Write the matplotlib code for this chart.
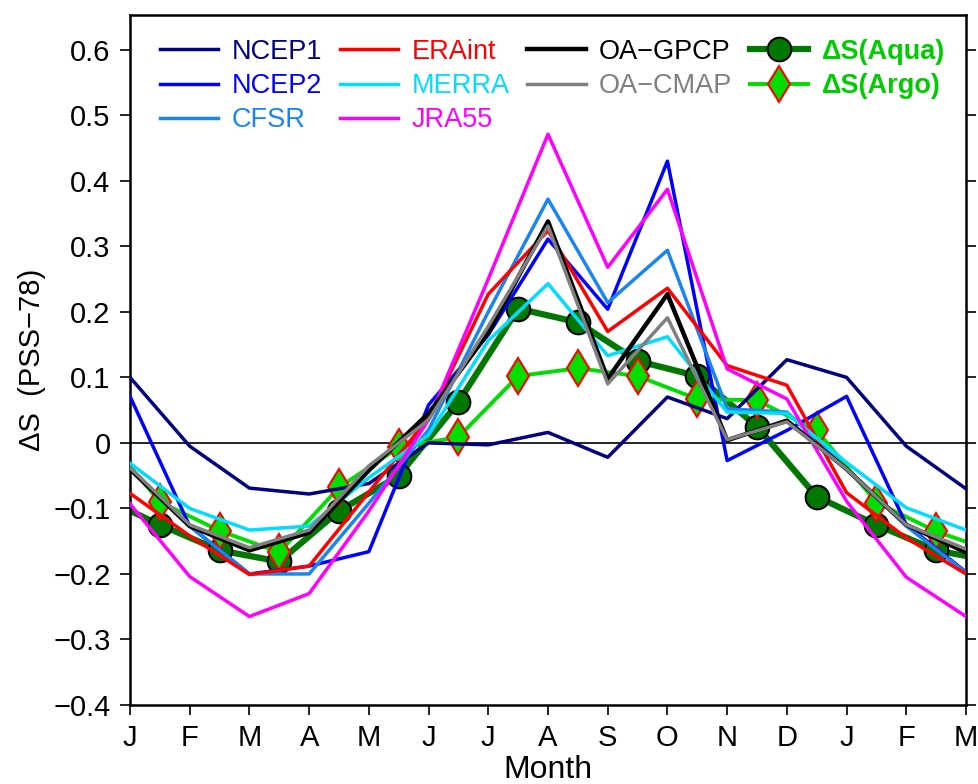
import matplotlib
matplotlib.use("Agg")
import matplotlib.pyplot as plt
import numpy as np
from matplotlib.lines import Line2D

plt.rcParams['font.family'] = ['Liberation Sans', 'DejaVu Sans']

# Month labels along the x axis (Jan to following Mar)
month_labels = ['J', 'F', 'M', 'A', 'M', 'J', 'J', 'A', 'S', 'O', 'N', 'D', 'J', 'F', 'M']

# E-P based salinity tendency from reanalyses, one value per month
ncep1 = [0.100, -0.005, -0.069, -0.078, -0.062, 0.000, -0.003, 0.016, -0.022, 0.070, 0.037, 0.127, 0.100, -0.005, -0.070]
ncep2 = [0.071, -0.127, -0.200, -0.188, -0.166, 0.058, 0.165, 0.311, 0.204, 0.430, -0.027, 0.019, 0.071, -0.125, -0.197]
cfsr = [-0.040, -0.127, -0.200, -0.200, -0.092, 0.020, 0.200, 0.372, 0.214, 0.294, 0.052, 0.047, -0.040, -0.127, -0.198]
eraint = [-0.077, -0.142, -0.201, -0.188, -0.075, 0.038, 0.227, 0.324, 0.170, 0.236, 0.118, 0.088, -0.076, -0.145, -0.200]
merra = [-0.031, -0.100, -0.133, -0.127, -0.053, 0.012, 0.156, 0.243, 0.133, 0.162, 0.047, 0.045, -0.030, -0.099, -0.133]
jra55 = [-0.093, -0.204, -0.265, -0.230, -0.104, 0.035, 0.250, 0.471, 0.268, 0.387, 0.113, 0.067, -0.089, -0.205, -0.265]
oa_gpcp = [-0.040, -0.127, -0.164, -0.137, -0.042, 0.045, 0.168, 0.338, 0.098, 0.227, 0.004, 0.034, -0.040, -0.125, -0.167]
oa_cmap = [-0.038, -0.125, -0.160, -0.133, -0.035, 0.035, 0.178, 0.331, 0.090, 0.191, 0.005, 0.032, -0.040, -0.125, -0.162]

# Observed salinity change, mid-month values from previous Dec to Mar
aqua = [-0.082, -0.125, -0.164, -0.181, -0.104, -0.050, 0.062, 0.205, 0.184, 0.125, 0.102, 0.025, -0.082, -0.125, -0.164, -0.181]
argo = [0.019, -0.090, -0.134, -0.167, -0.068, -0.007, 0.009, 0.102, 0.114, 0.102, 0.067, 0.065, 0.019, -0.091, -0.135, -0.167]

x_month = np.arange(len(month_labels))
x_mid = np.arange(len(aqua)) - 0.5

fig = plt.figure(figsize=(9.79, 7.84), dpi=100)
ax = fig.add_axes([130 / 979, 1 - 705 / 784, 836 / 979, 690 / 784])

ax.axhline(0, color='black', lw=1.2, zorder=1)

# observations go underneath the model lines
h_aqua, = ax.plot(x_mid, aqua, color='#007700', lw=4.5, marker='o', ms=17,
                  mfc='#007700', mec='black', mew=1.5, zorder=2)
h_argo, = ax.plot(x_mid, argo, color='#00dd00', lw=2.8, marker='d', ms=18,
                  mfc='#00dd00', mec='red', mew=1.5, zorder=2)

h1, = ax.plot(x_month, ncep1, color='#000080', lw=2.5, zorder=3)
h2, = ax.plot(x_month, ncep2, color='#0000ff', lw=2.5, zorder=3)
h3, = ax.plot(x_month, cfsr, color='#1a85f0', lw=2.5, zorder=3)
h4, = ax.plot(x_month, eraint, color='#ff0000', lw=2.5, zorder=3)
h5, = ax.plot(x_month, merra, color='#00ddff', lw=2.5, zorder=3)
h6, = ax.plot(x_month, jra55, color='#ff00ff', lw=2.5, zorder=3)
h7, = ax.plot(x_month, oa_gpcp, color='black', lw=3.2, zorder=4)
h8, = ax.plot(x_month, oa_cmap, color='#808080', lw=2.5, zorder=4)

ax.set_xlim(0, 14)
ax.set_ylim(-0.4, 0.653)
ax.set_xticks(x_month)
ax.set_xticklabels(month_labels)
yt = np.round(np.arange(-0.4, 0.61, 0.1), 1)
ax.set_yticks(yt)
ax.set_yticklabels(['0' if v == 0 else f'{v:.1f}'.replace('-', '\u2212') for v in yt])
ax.tick_params(axis='both', direction='out', length=7, width=1.2, labelsize=21, pad=7)
ax.tick_params(axis='y', right=True)
for s in ax.spines.values():
    s.set_linewidth(1.8)

ax.set_xlabel('Month', fontsize=23, labelpad=2)
ax.set_ylabel('\u0394S  (PSS\u221278)', fontsize=21, labelpad=5)

# legend laid out in four columns, blanks pad the short columns
blank = Line2D([], [], alpha=0)
handles = [h1, h2, h3, h4, h5, h6, h7, h8, blank, h_aqua, h_argo, blank]
labels = ['NCEP1', 'NCEP2', 'CFSR', 'ERAint', 'MERRA', 'JRA55',
          'OA\u2212GPCP', 'OA\u2212CMAP', '', '\u0394S(Aqua)', '\u0394S(Argo)', '']
colors = ['#000080', '#0000ff', '#1a85f0', '#ff0000', '#00ddff', '#ff00ff',
          'black', '#808080', 'black', '#00cc00', '#00cc00', 'black']
leg = ax.legend(handles, labels, ncol=4, loc='upper left', bbox_to_anchor=(0.023, 0.981),
                borderaxespad=0, frameon=False, fontsize=19.5, handlelength=2.15,
                handletextpad=0.5, columnspacing=0.65, labelspacing=0.3, labelcolor=colors)
for t in leg.get_texts():
    if t.get_text().startswith('\u0394S'):
        t.set_fontweight('bold')

fig.savefig('out.png', dpi=100)
